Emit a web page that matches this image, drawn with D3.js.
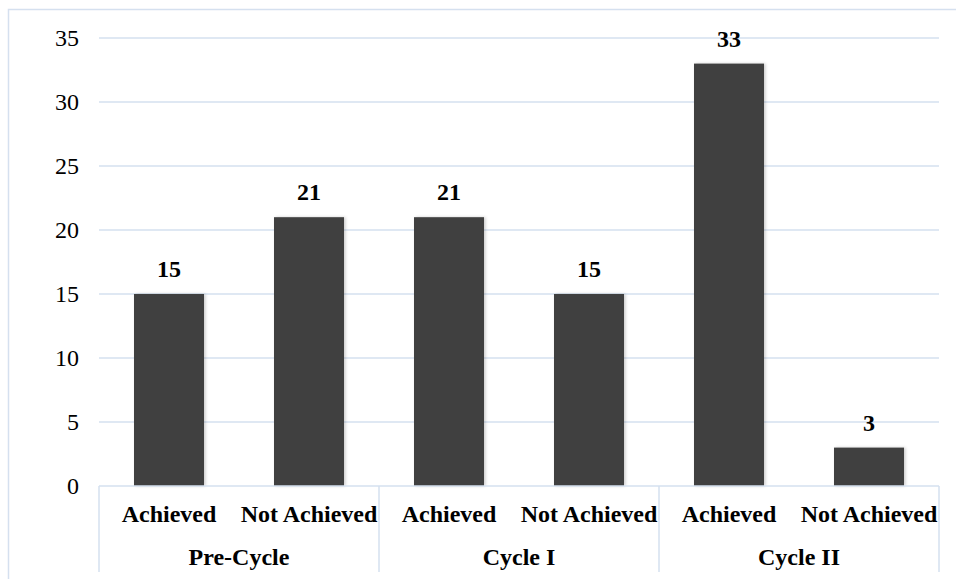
<!DOCTYPE html>
<html>
<head>
<meta charset="utf-8">
<script src="https://cdn.jsdelivr.net/npm/d3@7/dist/d3.min.js"></script>
</head>
<body style="margin:0">
<svg id="chart" width="956" height="579" style="display:block"></svg>
<script>
// Cycle groups, the two outcome categories inside each, and the counts per bar
const groups = ["Pre-Cycle", "Cycle I", "Cycle II"];
const statuses = ["Achieved", "Not Achieved"];
const values = [15, 21, 21, 15, 33, 3];
const yTicks = [0, 5, 10, 15, 20, 25, 30, 35];

const rows = [];
groups.forEach((g, gi) => statuses.forEach((s, si) => {
  rows.push({ key: g + "|" + s, group: g, status: s, value: values[gi * statuses.length + si] });
}));

const FONT = "Liberation Serif";
const FONT_SIZE = 24;
const svg = d3.select("#chart");
const W = 956, H = 579;
const plot = { left: 99, right: 939, top: 38, bottom: 486 };
const gridColor = "#d5e0ef";

function styleText(sel, bold) {
  return sel.attr("font-family", FONT)
    .style("font-family", FONT)
    .attr("font-size", FONT_SIZE)
    .attr("font-weight", bold ? "bold" : "normal")
    .attr("fill", "#000");
}

// Outer frame (extends past the right and bottom edges)
svg.append("rect")
  .attr("x", 8.5).attr("y", 9.5)
  .attr("width", W).attr("height", H)
  .attr("fill", "#fff").attr("stroke", gridColor).attr("stroke-width", 1.5);

const x = d3.scaleBand()
  .domain(rows.map(d => d.key))
  .range([plot.left, plot.right])
  .paddingInner(0.5).paddingOuter(0.25);

const y = d3.scaleLinear().domain([0, 35]).range([plot.bottom, plot.top]);

// Horizontal gridlines
svg.append("g").selectAll("line").data(yTicks.filter(d => d !== 0)).join("line")
  .attr("x1", plot.left).attr("x2", plot.right)
  .attr("y1", d => y(d)).attr("y2", d => y(d))
  .attr("stroke", gridColor).attr("stroke-width", 1.5);

// Y tick labels
styleText(svg.append("g").selectAll("text").data(yTicks).join("text"), false)
  .attr("x", 79)
  .attr("y", d => y(d) + 8)
  .attr("text-anchor", "end")
  .text(d => d);

// Soft shadow for the bars
const defs = svg.append("defs");
const f = defs.append("filter").attr("id", "shadow")
  .attr("x", "-20%").attr("y", "-20%").attr("width", "140%").attr("height", "140%");
f.append("feDropShadow").attr("dx", 1.5).attr("dy", 0).attr("stdDeviation", 1.5)
  .attr("flood-color", "#000").attr("flood-opacity", 0.2);

svg.append("g").selectAll("rect").data(rows).join("rect")
  .attr("x", d => x(d.key))
  .attr("y", d => y(d.value))
  .attr("width", x.bandwidth())
  .attr("height", d => y(0) - y(d.value))
  .attr("fill", "#404040")
  .attr("filter", "url(#shadow)");

// Value labels
styleText(svg.append("g").selectAll("text").data(rows).join("text"), true)
  .attr("x", d => x(d.key) + x.bandwidth() / 2)
  .attr("y", d => y(d.value) - 17)
  .attr("text-anchor", "middle")
  .text(d => d.value);

// Category axis line
svg.append("line")
  .attr("x1", plot.left).attr("x2", plot.right)
  .attr("y1", plot.bottom).attr("y2", plot.bottom)
  .attr("stroke", gridColor).attr("stroke-width", 1.5);

// Group dividers
const groupWidth = (plot.right - plot.left) / groups.length;
const dividers = d3.range(groups.length + 1).map(i => plot.left + i * groupWidth);
svg.append("g").selectAll("line").data(dividers).join("line")
  .attr("x1", d => d).attr("x2", d => d)
  .attr("y1", plot.bottom).attr("y2", 572)
  .attr("stroke", gridColor).attr("stroke-width", 1.5);

// Outcome labels
styleText(svg.append("g").selectAll("text").data(rows).join("text"), true)
  .attr("x", d => x(d.key) + x.bandwidth() / 2)
  .attr("y", 522)
  .attr("text-anchor", "middle")
  .text(d => d.status);

// Group labels
styleText(svg.append("g").selectAll("text").data(groups).join("text"), true)
  .attr("x", (d, i) => plot.left + (i + 0.5) * groupWidth)
  .attr("y", 565)
  .attr("text-anchor", "middle")
  .text(d => d);
</script>
</body>
</html>
